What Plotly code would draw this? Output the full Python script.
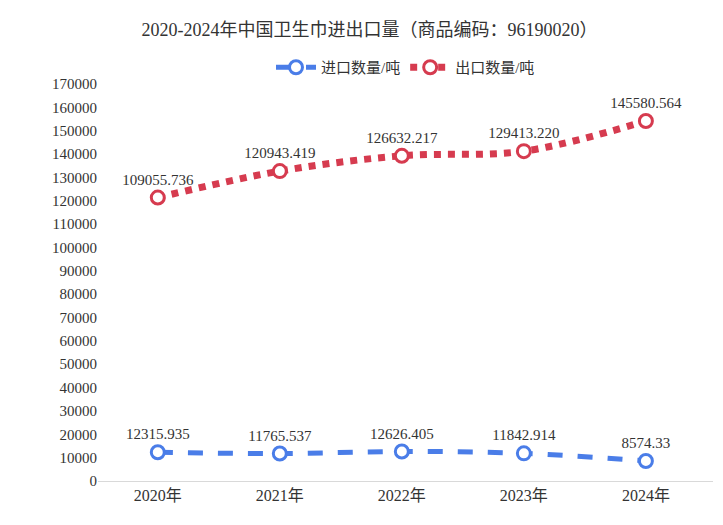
import plotly.graph_objects as go

years = ["2020年", "2021年", "2022年", "2023年", "2024年"]
imports = [12315.935, 11765.537, 12626.405, 11842.914, 8574.33]
exports = [109055.736, 120943.419, 126632.217, 129413.220, 145580.564]
stacked = [a + b for a, b in zip(imports, exports)]
imp_labels = ["12315.935", "11765.537", "12626.405", "11842.914", "8574.33"]
exp_labels = ["109055.736", "120943.419", "126632.217", "129413.220", "145580.564"]

font = "Liberation Serif, Noto Sans CJK SC, serif"
fig = go.Figure()
fig.add_trace(go.Scatter(x=years, y=imports, name="进口数量/吨", mode="lines+markers+text",
    line=dict(color="#4a7de8", width=5, dash="dash", shape="spline"),
    marker=dict(size=13, color="white", line=dict(color="#4a7de8", width=3)),
    text=imp_labels, textposition="top center", textfont=dict(size=15, color="#333")))
fig.add_trace(go.Scatter(x=years, y=stacked, name="出口数量/吨", mode="lines+markers+text",
    line=dict(color="#d63b4f", width=7, dash="dot", shape="spline"),
    marker=dict(size=13, color="white", line=dict(color="#d63b4f", width=3)),
    text=exp_labels, textposition="top center", textfont=dict(size=15, color="#333")))
fig.update_layout(
    width=723, height=525, plot_bgcolor="white", paper_bgcolor="white",
    font=dict(family=font, size=15, color="#333"),
    title=dict(text="2020-2024年中国卫生巾进出口量（商品编码：96190020）", x=0.5, y=0.958,
               xanchor="center", yanchor="middle", font=dict(size=18, color="#333")),
    legend=dict(orientation="h", x=0.5, xanchor="center", y=1.0, yanchor="bottom",
                font=dict(size=15), itemwidth=40),
    margin=dict(l=90, r=18, t=76, b=52),
    xaxis=dict(showgrid=False, showline=True, linecolor="#d9d9d9", ticks="", tickfont=dict(size=16),
               range=[-0.49, 4.55]),
    yaxis=dict(range=[0, 170000], dtick=10000, showgrid=False, zeroline=False, tickformat="d",
               tickfont=dict(size=15)),
)
fig.write_html("out.html")
